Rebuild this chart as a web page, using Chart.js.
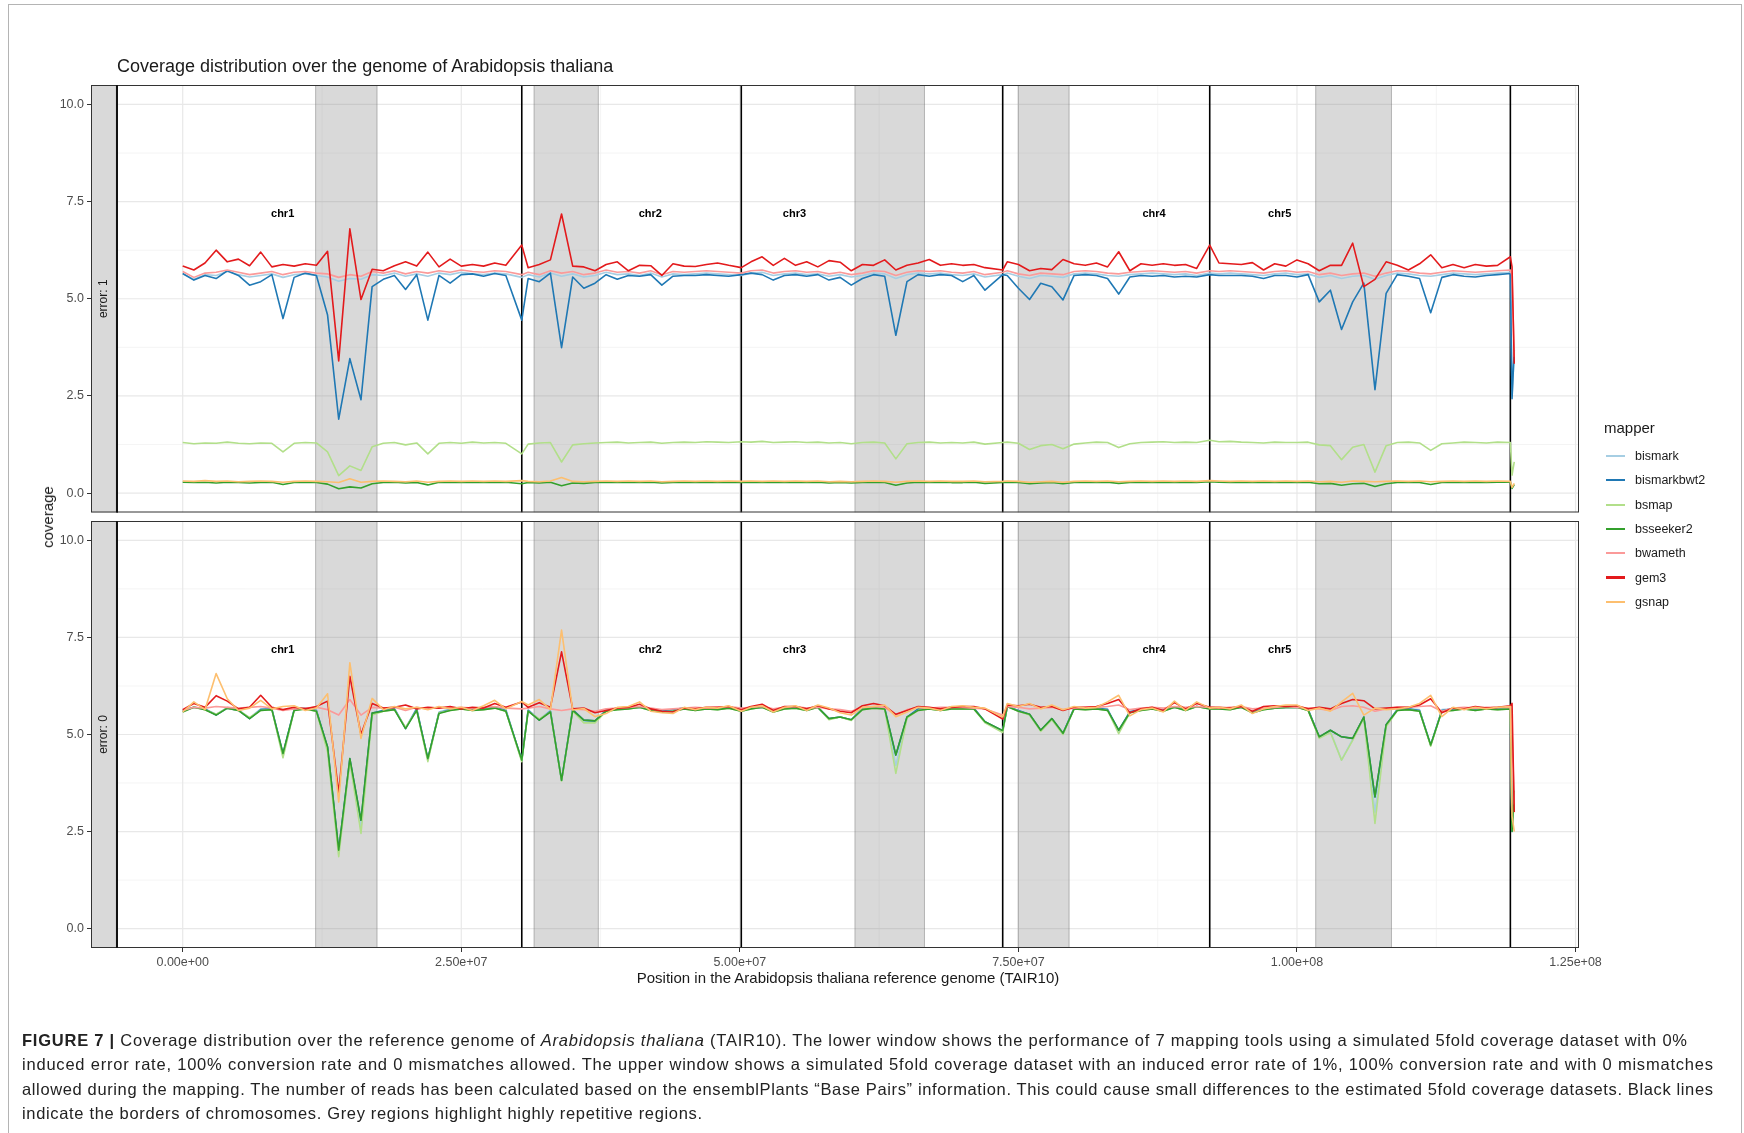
<!DOCTYPE html>
<html>
<head>
<meta charset="utf-8">
<title>Coverage distribution over the genome of Arabidopsis thaliana</title>
<script src="https://cdn.jsdelivr.net/npm/chart.js@4.4.1/dist/chart.umd.min.js"></script>
<style>
  html, body { margin: 0; padding: 0; background: #fff; }
  body { width: 1744px; height: 1133px; position: relative; overflow: hidden;
         font-family: 'Liberation Sans', Arial, sans-serif; color: #1a1a1a; }
  .frame { position: absolute; left: 8px; top: 4px; width: 1732px; height: 1200px;
           border: 1px solid #b4b4b4; border-bottom: none; }
  canvas { position: absolute; left: 0; top: 0; }
  .title { position: absolute; left: 117px; top: 57px; font-size: 18px; line-height: 18px; white-space: nowrap; }
  .ytitle { position: absolute; left: 48px; top: 517px; font-size: 15px; line-height: 18px; white-space: nowrap;
            transform: translate(-50%, -50%) rotate(-90deg); }
  .xtitle { position: absolute; left: 848px; top: 968px; font-size: 15px; line-height: 20px; white-space: nowrap;
            transform: translateX(-50%); }
  .legend-title { position: absolute; left: 1604px; top: 418px; font-size: 15px; line-height: 20px; }
  .legend-item { position: absolute; left: 1606px; height: 24px; display: flex; align-items: center;
                 font-size: 12.5px; color: #1a1a1a; white-space: nowrap; }
  .legend-item .key { width: 19px; height: 2.2px; margin-right: 10px; }
  .cap-line { position: absolute; left: 22px; font-size: 16.5px; line-height: 24.4px; white-space: nowrap; color: #222; }
</style>
</head>
<body>
<div class="frame"></div>
<canvas id="upper" width="1744" height="1133"></canvas>
<canvas id="lower" width="1744" height="1133"></canvas>
<div class="title">Coverage distribution over the genome of Arabidopsis thaliana</div>
<div class="ytitle">coverage</div>
<div class="xtitle">Position in the Arabidopsis thaliana reference genome (TAIR10)</div>
<div class="legend-title">mapper</div>
<div id="legend"></div>
<div class="cap-line" data-w="1665" style="top:1028px"><b>FIGURE 7 |</b> Coverage distribution over the reference genome of <i>Arabidopsis thaliana</i> (TAIR10). The lower window shows the performance of 7 mapping tools using a simulated 5fold coverage dataset with 0%</div>
<div class="cap-line" data-w="1691" style="top:1052.4px">induced error rate, 100% conversion rate and 0 mismatches allowed. The upper window shows a simulated 5fold coverage dataset with an induced error rate of 1%, 100% conversion rate and with 0 mismatches</div>
<div class="cap-line" data-w="1691" style="top:1076.8px">allowed during the mapping. The number of reads has been calculated based on the ensemblPlants “Base Pairs” information. This could cause small differences to the estimated 5fold coverage datasets. Black lines</div>
<div class="cap-line" data-w="680" style="top:1101.2px">indicate the borders of chromosomes. Grey regions highlight highly repetitive regions.</div>
<script>
// bin positions along the concatenated genome, in Mb (last two: ChrC, ChrM)
const positionsMb = [
  0, 1, 2, 3, 4, 5, 6, 7, 8, 9,
  10, 11, 12, 13, 14, 15, 16, 17, 18, 19,
  20, 21, 22, 23, 24, 25, 26, 27, 28, 29,
  30.43, 31, 32, 33, 34, 35, 36, 37, 38, 39,
  40, 41, 42, 43, 44, 45, 46, 47, 48, 49,
  50.13, 51, 52, 53, 54, 55, 56, 57, 58, 59,
  60, 61, 62, 63, 64, 65, 66, 67, 68, 69,
  70, 71, 72, 73.59, 74, 75, 76, 77, 78, 79,
  80, 81, 82, 83, 84, 85, 86, 87, 88, 89,
  90, 91, 92.17, 93, 94, 95, 96, 97, 98, 99,
  100, 101, 102, 103, 104, 105, 106, 107, 108, 109,
  110, 111, 112, 113, 114, 115, 116, 117, 118, 119.15,
  119.3, 119.5
];

const mappers = ['bismark', 'bismarkbwt2', 'bsmap', 'bsseeker2', 'bwameth', 'gem3', 'gsnap'];
const mapperColors = ['#A6CEE3', '#1F78B4', '#B2DF8A', '#33A02C', '#FB9A99', '#E31A1C', '#FDBF6F'];

const chromEndsMb = [30.43, 50.13, 73.59, 92.17, 119.15];
const repeatRegionsMb = [[11.93, 17.44], [31.53, 37.3], [60.33, 66.57], [74.98, 79.55], [101.68, 108.48]];
const chrLabels = ['chr1', 'chr2', 'chr3', 'chr4', 'chr5'];
const chrLabelXMb = [8.97, 41.96, 54.9, 87.17, 98.45];
const chrLabelY = 7.19;

const yTickValues = [0, 2.5, 5, 7.5, 10];
const yTickLabels = ['0.0', '2.5', '5.0', '7.5', '10.0'];
const xTickValues = [0, 25, 50, 75, 100, 125];
const xTickLabels = ['0.00e+00', '2.50e+07', '5.00e+07', '7.50e+07', '1.00e+08', '1.25e+08'];

// ---- error: 1 (upper window) ----
const upBismark = [
  5.64, 5.50, 5.62, 5.60, 5.70, 5.62, 5.56, 5.60, 5.64, 5.55,
  5.62, 5.64, 5.60, 5.56, 5.45, 5.52, 5.50, 5.62, 5.60, 5.66,
  5.58, 5.64, 5.58, 5.66, 5.62, 5.68, 5.64, 5.62, 5.66, 5.64,
  5.55, 5.62, 5.56, 5.66, 5.58, 5.64, 5.56, 5.60, 5.68, 5.62,
  5.64, 5.60, 5.66, 5.56, 5.64, 5.62, 5.64, 5.66, 5.64, 5.62,
  5.60, 5.66, 5.68, 5.60, 5.64, 5.66, 5.62, 5.64, 5.58, 5.62,
  5.56, 5.60, 5.66, 5.64, 5.52, 5.62, 5.66, 5.64, 5.66, 5.62,
  5.60, 5.64, 5.56, 5.62, 5.66, 5.58, 5.52, 5.60, 5.58, 5.55,
  5.64, 5.66, 5.64, 5.60, 5.58, 5.62, 5.64, 5.66, 5.64, 5.62,
  5.64, 5.60, 5.66, 5.64, 5.66, 5.64, 5.62, 5.60, 5.64, 5.66,
  5.62, 5.64, 5.55, 5.60, 5.52, 5.58, 5.60, 5.50, 5.60, 5.66,
  5.64, 5.60, 5.58, 5.62, 5.66, 5.64, 5.62, 5.64, 5.66, 5.68,
  2.50, 3.60
];
const upBismarkBwt2 = [
  5.65, 5.48, 5.60, 5.52, 5.72, 5.60, 5.35, 5.44, 5.62, 4.49,
  5.55, 5.66, 5.60, 4.58, 1.90, 3.46, 2.40, 5.31, 5.50, 5.60,
  5.24, 5.62, 4.45, 5.60, 5.40, 5.62, 5.64, 5.58, 5.65, 5.60,
  4.45, 5.52, 5.44, 5.66, 3.74, 5.56, 5.27, 5.40, 5.62, 5.50,
  5.60, 5.58, 5.62, 5.35, 5.58, 5.60, 5.60, 5.62, 5.60, 5.58,
  5.62, 5.66, 5.62, 5.48, 5.60, 5.62, 5.58, 5.62, 5.48, 5.55,
  5.35, 5.52, 5.62, 5.58, 4.06, 5.44, 5.62, 5.58, 5.62, 5.60,
  5.44, 5.60, 5.22, 5.62, 5.60, 5.27, 4.98, 5.40, 5.31, 4.97,
  5.60, 5.62, 5.60, 5.52, 5.12, 5.56, 5.60, 5.58, 5.60, 5.56,
  5.58, 5.56, 5.62, 5.60, 5.60, 5.60, 5.58, 5.52, 5.60, 5.60,
  5.56, 5.62, 4.92, 5.22, 4.21, 4.92, 5.40, 2.66, 5.14, 5.62,
  5.58, 5.52, 4.64, 5.55, 5.62, 5.58, 5.56, 5.60, 5.62, 5.65,
  2.43, 3.68
];
const upBsmap = [
  1.30, 1.27, 1.29, 1.28, 1.31, 1.28, 1.27, 1.29, 1.28, 1.06,
  1.28, 1.30, 1.29, 1.06, 0.45, 0.70, 0.58, 1.19, 1.28, 1.30,
  1.24, 1.29, 1.01, 1.28, 1.30, 1.28, 1.31, 1.29, 1.30, 1.28,
  1.01, 1.26, 1.29, 1.30, 0.80, 1.24, 1.27, 1.29, 1.30, 1.31,
  1.29, 1.30, 1.31, 1.28, 1.30, 1.31, 1.30, 1.32, 1.31, 1.30,
  1.32, 1.31, 1.33, 1.30, 1.31, 1.32, 1.30, 1.31, 1.29, 1.30,
  1.27, 1.30, 1.31, 1.29, 0.88, 1.27, 1.30, 1.31, 1.29, 1.30,
  1.29, 1.31, 1.26, 1.30, 1.31, 1.28, 1.12, 1.22, 1.25, 1.14,
  1.26, 1.29, 1.31, 1.30, 1.17, 1.27, 1.30, 1.31, 1.32, 1.30,
  1.31, 1.30, 1.36, 1.32, 1.33, 1.31, 1.30, 1.29, 1.31, 1.30,
  1.30, 1.31, 1.24, 1.22, 0.86, 1.18, 1.25, 0.54, 1.22, 1.30,
  1.31, 1.29, 1.10, 1.27, 1.29, 1.31, 1.30, 1.29, 1.31, 1.30,
  0.46, 0.80
];
const upBsseeker2 = [
  0.28, 0.27, 0.28, 0.26, 0.28, 0.27, 0.26, 0.27, 0.28, 0.22,
  0.27, 0.28, 0.27, 0.23, 0.11, 0.16, 0.13, 0.24, 0.27, 0.28,
  0.26, 0.27, 0.21, 0.28, 0.27, 0.28, 0.27, 0.28, 0.27, 0.28,
  0.24, 0.27, 0.26, 0.28, 0.19, 0.26, 0.25, 0.27, 0.28, 0.27,
  0.28, 0.27, 0.28, 0.26, 0.27, 0.28, 0.27, 0.28, 0.27, 0.28,
  0.27, 0.28, 0.27, 0.28, 0.27, 0.28, 0.27, 0.28, 0.26, 0.27,
  0.26, 0.27, 0.28, 0.27, 0.20, 0.26, 0.28, 0.27, 0.28, 0.27,
  0.27, 0.28, 0.25, 0.27, 0.28, 0.27, 0.24, 0.26, 0.27, 0.24,
  0.27, 0.28, 0.27, 0.28, 0.25, 0.27, 0.28, 0.27, 0.28, 0.27,
  0.28, 0.27, 0.29, 0.28, 0.27, 0.28, 0.27, 0.28, 0.27, 0.28,
  0.27, 0.28, 0.24, 0.25, 0.20, 0.24, 0.25, 0.17, 0.24, 0.27,
  0.28, 0.27, 0.22, 0.27, 0.28, 0.27, 0.28, 0.27, 0.28, 0.28,
  0.12, 0.22
];
const upBwameth = [
  5.70, 5.55, 5.66, 5.68, 5.74, 5.68, 5.62, 5.66, 5.70, 5.62,
  5.68, 5.70, 5.66, 5.64, 5.55, 5.62, 5.58, 5.70, 5.66, 5.72,
  5.64, 5.70, 5.66, 5.72, 5.68, 5.74, 5.70, 5.68, 5.72, 5.70,
  5.62, 5.68, 5.62, 5.72, 5.66, 5.70, 5.62, 5.66, 5.74, 5.68,
  5.70, 5.66, 5.72, 5.62, 5.70, 5.68, 5.70, 5.72, 5.70, 5.68,
  5.66, 5.72, 5.74, 5.66, 5.70, 5.72, 5.68, 5.70, 5.64, 5.68,
  5.62, 5.66, 5.72, 5.70, 5.60, 5.68, 5.72, 5.70, 5.72, 5.68,
  5.66, 5.70, 5.62, 5.68, 5.72, 5.64, 5.60, 5.66, 5.64, 5.62,
  5.70, 5.72, 5.70, 5.66, 5.64, 5.68, 5.70, 5.72, 5.70, 5.68,
  5.70, 5.66, 5.72, 5.70, 5.72, 5.70, 5.68, 5.66, 5.70, 5.72,
  5.68, 5.70, 5.62, 5.66, 5.60, 5.64, 5.66, 5.58, 5.66, 5.72,
  5.70, 5.66, 5.64, 5.68, 5.72, 5.70, 5.68, 5.70, 5.72, 5.74,
  5.60, 3.50
];
const upGem3 = [
  5.84, 5.74, 5.92, 6.25, 5.95, 6.02, 5.85, 6.20, 5.82, 5.88,
  5.84, 5.90, 5.86, 6.22, 3.40, 6.80, 4.98, 5.76, 5.72, 5.85,
  5.95, 5.84, 6.20, 5.82, 6.02, 5.84, 5.88, 5.84, 5.92, 5.86,
  6.38, 5.80, 5.88, 6.00, 7.18, 5.84, 5.82, 5.72, 5.88, 5.95,
  5.72, 5.86, 5.85, 5.60, 5.90, 5.84, 5.83, 5.88, 5.92, 5.86,
  5.80, 5.95, 6.08, 5.86, 6.04, 5.86, 5.95, 5.82, 5.98, 5.94,
  5.72, 5.88, 5.86, 6.00, 5.74, 5.86, 5.92, 6.01, 5.86, 5.90,
  5.86, 5.88, 5.80, 5.74, 5.95, 5.88, 5.72, 5.78, 5.75, 6.01,
  5.90, 5.86, 5.92, 5.82, 6.21, 5.72, 5.90, 5.86, 5.90, 5.86,
  5.88, 5.78, 6.38, 5.92, 5.90, 5.88, 5.93, 5.74, 5.90, 5.84,
  6.00, 5.90, 5.72, 5.86, 5.86, 6.43, 5.31, 5.50, 5.95, 5.86,
  5.74, 5.90, 6.13, 5.80, 5.88, 5.80, 5.88, 5.84, 5.86, 6.08,
  5.82, 3.33
];
const upGsnap = [
  0.31, 0.30, 0.32, 0.30, 0.31, 0.29, 0.30, 0.31, 0.30, 0.28,
  0.30, 0.31, 0.30, 0.29, 0.27, 0.37, 0.28, 0.30, 0.31, 0.30,
  0.29, 0.31, 0.28, 0.30, 0.31, 0.30, 0.31, 0.30, 0.31, 0.30,
  0.32, 0.30, 0.29, 0.31, 0.40, 0.30, 0.29, 0.30, 0.31, 0.30,
  0.31, 0.30, 0.31, 0.29, 0.30, 0.31, 0.30, 0.31, 0.30, 0.31,
  0.30, 0.31, 0.30, 0.31, 0.30, 0.31, 0.30, 0.31, 0.29, 0.30,
  0.29, 0.30, 0.31, 0.30, 0.28, 0.30, 0.31, 0.30, 0.31, 0.30,
  0.30, 0.31, 0.29, 0.30, 0.31, 0.30, 0.28, 0.29, 0.30, 0.28,
  0.30, 0.31, 0.30, 0.31, 0.29, 0.30, 0.31, 0.30, 0.31, 0.30,
  0.31, 0.30, 0.32, 0.31, 0.30, 0.31, 0.30, 0.31, 0.30, 0.31,
  0.30, 0.31, 0.29, 0.30, 0.28, 0.31, 0.30, 0.29, 0.30, 0.31,
  0.30, 0.31, 0.29, 0.30, 0.31, 0.30, 0.31, 0.30, 0.31, 0.30,
  0.15, 0.25
];

// ---- error: 0 (lower window) ----
const loBismark = [
  5.62, 5.70, 5.66, 5.52, 5.70, 5.64, 5.43, 5.66, 5.66, 4.45,
  5.64, 5.68, 5.64, 4.62, 1.95, 4.34, 2.60, 5.52, 5.64, 5.68,
  5.17, 5.68, 4.34, 5.58, 5.66, 5.68, 5.66, 5.68, 5.70, 5.66,
  4.32, 5.64, 5.39, 5.62, 3.81, 5.64, 5.34, 5.33, 5.64, 5.66,
  5.68, 5.70, 5.66, 5.62, 5.64, 5.68, 5.66, 5.68, 5.66, 5.70,
  5.64, 5.68, 5.70, 5.62, 5.68, 5.70, 5.66, 5.70, 5.40, 5.45,
  5.37, 5.66, 5.70, 5.68, 4.20, 5.44, 5.66, 5.68, 5.66, 5.68,
  5.68, 5.68, 5.32, 5.08, 5.72, 5.62, 5.50, 5.10, 5.40, 5.02,
  5.68, 5.66, 5.68, 5.66, 5.06, 5.60, 5.66, 5.68, 5.64, 5.70,
  5.66, 5.72, 5.68, 5.68, 5.66, 5.70, 5.60, 5.66, 5.68, 5.70,
  5.70, 5.66, 4.92, 5.08, 4.34, 4.88, 5.44, 3.00, 5.22, 5.66,
  5.66, 5.64, 4.72, 5.64, 5.66, 5.68, 5.66, 5.68, 5.66, 5.68,
  2.58, 3.45
];
const loBismarkBwt2 = [
  5.62, 5.70, 5.66, 5.50, 5.68, 5.62, 5.41, 5.64, 5.66, 4.51,
  5.64, 5.68, 5.62, 4.68, 2.02, 4.38, 2.79, 5.55, 5.62, 5.66,
  5.15, 5.66, 4.38, 5.56, 5.64, 5.68, 5.64, 5.66, 5.70, 5.62,
  4.34, 5.62, 5.37, 5.60, 3.82, 5.64, 5.37, 5.35, 5.62, 5.66,
  5.68, 5.70, 5.66, 5.62, 5.64, 5.68, 5.66, 5.68, 5.66, 5.70,
  5.64, 5.68, 5.70, 5.62, 5.68, 5.70, 5.66, 5.70, 5.41, 5.45,
  5.38, 5.66, 5.70, 5.68, 4.47, 5.45, 5.66, 5.68, 5.66, 5.68,
  5.68, 5.68, 5.33, 5.10, 5.72, 5.62, 5.52, 5.11, 5.41, 5.03,
  5.68, 5.66, 5.68, 5.64, 5.11, 5.58, 5.66, 5.68, 5.62, 5.70,
  5.64, 5.72, 5.68, 5.68, 5.66, 5.70, 5.58, 5.66, 5.68, 5.70,
  5.70, 5.64, 4.94, 5.11, 4.94, 4.90, 5.45, 3.39, 5.25, 5.64,
  5.66, 5.62, 4.73, 5.62, 5.66, 5.68, 5.64, 5.68, 5.66, 5.68,
  2.50, 3.55
];
const loBsmap = [
  5.60, 5.70, 5.64, 5.52, 5.68, 5.62, 5.44, 5.62, 5.64, 4.40,
  5.62, 5.66, 5.60, 4.55, 1.85, 4.30, 2.45, 5.50, 5.60, 5.64,
  5.18, 5.62, 4.30, 5.56, 5.62, 5.66, 5.62, 5.64, 5.68, 5.60,
  4.30, 5.60, 5.40, 5.58, 3.80, 5.60, 5.30, 5.30, 5.60, 5.64,
  5.66, 5.70, 5.62, 5.58, 5.60, 5.66, 5.62, 5.66, 5.64, 5.68,
  5.60, 5.66, 5.70, 5.58, 5.66, 5.68, 5.62, 5.70, 5.38, 5.45,
  5.36, 5.64, 5.68, 5.66, 4.00, 5.42, 5.62, 5.66, 5.62, 5.66,
  5.66, 5.66, 5.30, 5.05, 5.72, 5.60, 5.50, 5.08, 5.38, 5.00,
  5.66, 5.64, 5.66, 5.62, 5.02, 5.56, 5.62, 5.66, 5.60, 5.70,
  5.62, 5.72, 5.66, 5.66, 5.64, 5.70, 5.56, 5.64, 5.68, 5.70,
  5.70, 5.62, 4.90, 5.05, 4.34, 4.85, 5.42, 2.71, 5.20, 5.62,
  5.64, 5.60, 4.70, 5.60, 5.62, 5.66, 5.62, 5.66, 5.64, 5.66,
  2.55, 3.30
];
const loBsseeker2 = [
  5.58, 5.70, 5.64, 5.50, 5.68, 5.62, 5.41, 5.62, 5.64, 4.51,
  5.62, 5.66, 5.60, 4.68, 2.02, 4.38, 2.79, 5.55, 5.60, 5.64,
  5.15, 5.62, 4.38, 5.54, 5.62, 5.66, 5.62, 5.64, 5.68, 5.60,
  4.34, 5.60, 5.37, 5.58, 3.82, 5.62, 5.37, 5.35, 5.60, 5.64,
  5.66, 5.70, 5.62, 5.58, 5.60, 5.66, 5.62, 5.66, 5.64, 5.68,
  5.60, 5.66, 5.70, 5.58, 5.66, 5.68, 5.62, 5.70, 5.41, 5.45,
  5.38, 5.64, 5.68, 5.66, 4.47, 5.45, 5.62, 5.66, 5.62, 5.66,
  5.66, 5.66, 5.33, 5.10, 5.72, 5.60, 5.52, 5.11, 5.41, 5.03,
  5.66, 5.64, 5.66, 5.62, 5.11, 5.56, 5.62, 5.66, 5.60, 5.70,
  5.62, 5.72, 5.66, 5.66, 5.64, 5.70, 5.56, 5.64, 5.68, 5.70,
  5.70, 5.62, 4.94, 5.11, 4.94, 4.90, 5.45, 3.39, 5.25, 5.62,
  5.64, 5.60, 4.73, 5.60, 5.62, 5.66, 5.62, 5.66, 5.64, 5.66,
  2.50, 3.55
];
const loBwameth = [
  5.62, 5.70, 5.68, 5.72, 5.70, 5.68, 5.70, 5.72, 5.68, 5.62,
  5.66, 5.68, 5.70, 5.64, 5.50, 5.90, 5.50, 5.70, 5.68, 5.70,
  5.62, 5.70, 5.66, 5.70, 5.68, 5.70, 5.68, 5.70, 5.72, 5.68,
  5.66, 5.68, 5.72, 5.66, 5.62, 5.66, 5.64, 5.60, 5.66, 5.68,
  5.70, 5.72, 5.68, 5.64, 5.66, 5.68, 5.70, 5.68, 5.70, 5.72,
  5.68, 5.70, 5.72, 5.66, 5.70, 5.72, 5.68, 5.70, 5.66, 5.64,
  5.60, 5.70, 5.72, 5.70, 5.50, 5.64, 5.70, 5.68, 5.70, 5.70,
  5.70, 5.68, 5.66, 5.50, 5.72, 5.70, 5.66, 5.68, 5.70, 5.64,
  5.68, 5.70, 5.70, 5.72, 5.76, 5.64, 5.68, 5.70, 5.68, 5.72,
  5.70, 5.72, 5.70, 5.68, 5.70, 5.72, 5.66, 5.68, 5.70, 5.72,
  5.70, 5.68, 5.66, 5.62, 5.72, 5.74, 5.70, 5.60, 5.66, 5.70,
  5.70, 5.72, 5.74, 5.60, 5.68, 5.70, 5.68, 5.70, 5.70, 5.70,
  5.10, 3.20
];
const loGem3 = [
  5.64, 5.80, 5.70, 6.00, 5.86, 5.66, 5.70, 6.01, 5.70, 5.64,
  5.70, 5.66, 5.72, 5.86, 3.50, 6.50, 5.00, 5.80, 5.68, 5.70,
  5.76, 5.66, 5.70, 5.68, 5.72, 5.66, 5.70, 5.68, 5.80, 5.70,
  5.84, 5.70, 5.82, 5.70, 7.13, 5.66, 5.68, 5.56, 5.62, 5.68,
  5.70, 5.78, 5.66, 5.60, 5.58, 5.68, 5.66, 5.70, 5.70, 5.72,
  5.64, 5.72, 5.78, 5.62, 5.72, 5.72, 5.66, 5.74, 5.66, 5.60,
  5.56, 5.74, 5.80, 5.74, 5.52, 5.62, 5.72, 5.70, 5.66, 5.70,
  5.72, 5.72, 5.66, 5.40, 5.76, 5.74, 5.78, 5.70, 5.72, 5.62,
  5.70, 5.70, 5.72, 5.80, 5.90, 5.56, 5.66, 5.70, 5.62, 5.82,
  5.66, 5.80, 5.70, 5.70, 5.68, 5.72, 5.60, 5.72, 5.74, 5.72,
  5.74, 5.66, 5.70, 5.66, 5.80, 5.90, 5.87, 5.66, 5.68, 5.70,
  5.70, 5.76, 5.92, 5.56, 5.68, 5.66, 5.72, 5.68, 5.70, 5.74,
  5.80, 3.00
];
const loGsnap = [
  5.58, 5.84, 5.64, 6.57, 5.92, 5.62, 5.68, 5.88, 5.66, 5.72,
  5.74, 5.62, 5.68, 6.05, 3.26, 6.85, 4.90, 5.93, 5.64, 5.72,
  5.66, 5.70, 5.64, 5.72, 5.66, 5.70, 5.62, 5.74, 5.88, 5.66,
  5.85, 5.76, 5.90, 5.64, 7.69, 5.63, 5.67, 5.46, 5.54, 5.70,
  5.72, 5.84, 5.60, 5.56, 5.54, 5.70, 5.64, 5.70, 5.68, 5.74,
  5.60, 5.70, 5.74, 5.58, 5.70, 5.74, 5.62, 5.76, 5.68, 5.56,
  5.50, 5.70, 5.72, 5.76, 5.46, 5.58, 5.70, 5.68, 5.62, 5.72,
  5.74, 5.70, 5.68, 5.45, 5.80, 5.72, 5.80, 5.66, 5.76, 5.64,
  5.72, 5.68, 5.70, 5.84, 6.01, 5.48, 5.64, 5.68, 5.58, 5.86,
  5.62, 5.84, 5.68, 5.70, 5.66, 5.76, 5.54, 5.66, 5.72, 5.76,
  5.76, 5.62, 5.68, 5.60, 5.84, 6.06, 5.50, 5.68, 5.64, 5.66,
  5.70, 5.80, 6.01, 5.46, 5.70, 5.64, 5.70, 5.66, 5.70, 5.72,
  2.90, 2.50
];

const upperSeries = [upBismark, upBismarkBwt2, upBsmap, upBsseeker2, upBwameth, upGem3, upGsnap];
const lowerSeries = [loBismark, loBismarkBwt2, loBsmap, loBsseeker2, loBwameth, loGem3, loGsnap];

// layout of the two facet panels (pixels)
const W = 1744, H = 1133;
const plotRight = 1579;
const xMin = -8.23, xMax = 125.31, panelStart = -5.9;
const tickFont = { family: "'Liberation Sans', Arial, sans-serif", size: 12.5 };

const panelDecor = {
  id: 'panelDecor',
  beforeDatasetsDraw(chart) {
    const { ctx, chartArea: a, scales: { x, y } } = chart;
    const left = x.getPixelForValue(panelStart);
    ctx.save();
    ctx.beginPath();
    ctx.rect(left, a.top, a.right - left, a.bottom - a.top);
    ctx.clip();
    const vline = px => { ctx.beginPath(); ctx.moveTo(px, a.top); ctx.lineTo(px, a.bottom); ctx.stroke(); };
    const hline = py => { ctx.beginPath(); ctx.moveTo(left, py); ctx.lineTo(a.right, py); ctx.stroke(); };
    // minor grid
    ctx.strokeStyle = '#F1F1F1';
    ctx.lineWidth = 0.8;
    [12.5, 37.5, 62.5, 87.5, 112.5].forEach(v => vline(x.getPixelForValue(v)));
    [1.25, 3.75, 6.25, 8.75].forEach(v => hline(y.getPixelForValue(v)));
    // major grid
    ctx.strokeStyle = '#E8E8E8';
    ctx.lineWidth = 1.2;
    xTickValues.forEach(v => vline(x.getPixelForValue(v)));
    yTickValues.forEach(v => hline(y.getPixelForValue(v)));
    // highly repetitive regions
    repeatRegionsMb.forEach(([s, e]) => {
      const xs = x.getPixelForValue(s), xe = x.getPixelForValue(e);
      ctx.fillStyle = 'rgba(130,130,130,0.3)';
      ctx.fillRect(xs, a.top, xe - xs, a.bottom - a.top);
      ctx.strokeStyle = 'rgba(110,110,110,0.45)';
      ctx.lineWidth = 1;
      vline(xs); vline(xe);
    });
    // chromosome borders
    ctx.strokeStyle = '#000';
    ctx.lineWidth = 1.6;
    chromEndsMb.forEach(v => vline(x.getPixelForValue(v)));
    ctx.restore();
  },
  afterDatasetsDraw(chart, args, opts) {
    const { ctx, chartArea: a, scales: { x, y } } = chart;
    const left = x.getPixelForValue(panelStart);
    ctx.save();
    // facet strip
    ctx.fillStyle = '#D9D9D9';
    ctx.fillRect(a.left, a.top, left - a.left, a.bottom - a.top);
    ctx.strokeStyle = '#333';
    ctx.lineWidth = 1;
    ctx.strokeRect(a.left + 0.5, a.top + 0.5, left - a.left, a.bottom - a.top - 1);
    ctx.translate((a.left + left) / 2, (a.top + a.bottom) / 2);
    ctx.rotate(-Math.PI / 2);
    ctx.fillStyle = '#1a1a1a';
    ctx.font = "12px 'Liberation Sans', Arial, sans-serif";
    ctx.textAlign = 'center';
    ctx.textBaseline = 'middle';
    ctx.fillText(opts.stripLabel, 0, 0);
    ctx.restore();

    ctx.save();
    // panel border
    ctx.strokeStyle = '#333';
    ctx.lineWidth = 1;
    ctx.strokeRect(left + 0.5, a.top + 0.5, a.right - left - 1, a.bottom - a.top - 1);
    ctx.strokeStyle = '#111';
    ctx.lineWidth = 2;
    ctx.beginPath(); ctx.moveTo(left, a.top); ctx.lineTo(left, a.bottom); ctx.stroke();
    // chromosome names
    ctx.fillStyle = '#000';
    ctx.font = "bold 11px 'Liberation Sans', Arial, sans-serif";
    ctx.textAlign = 'center';
    ctx.textBaseline = 'middle';
    chrLabels.forEach((t, i) => ctx.fillText(t, x.getPixelForValue(chrLabelXMb[i]), y.getPixelForValue(chrLabelY)));
    ctx.restore();
  }
};

function makeDatasets(seriesList) {
  return mappers.map((name, k) => ({
    label: name,
    data: seriesList[k].slice(0, positionsMb.length).map((v, i) => ({ x: positionsMb[i], y: v })),
    borderColor: mapperColors[k],
    borderWidth: 1.6,
    borderJoinStyle: 'round',
    pointRadius: 0,
    tension: 0,
    fill: false,
    order: mappers.length - k
  }));
}

function panelChart(id, seriesList, stripLabel, top, bottom, showX) {
  const xAxisHeight = showX ? 35 : 0;
  return new Chart(document.getElementById(id), {
    type: 'line',
    data: { datasets: makeDatasets(seriesList) },
    options: {
      responsive: false,
      animation: false,
      devicePixelRatio: 1,
      events: [],
      parsing: false,
      layout: {
        padding: { left: 0, right: W - plotRight, top: top, bottom: H - bottom - xAxisHeight }
      },
      plugins: {
        legend: { display: false },
        tooltip: { enabled: false },
        panelDecor: { stripLabel }
      },
      scales: {
        x: {
          type: 'linear',
          min: xMin,
          max: xMax,
          display: showX,
          afterBuildTicks: s => { s.ticks = xTickValues.map(v => ({ value: v })); },
          afterFit: s => { if (showX) s.height = xAxisHeight; },
          ticks: {
            callback: v => xTickLabels[xTickValues.indexOf(v)],
            font: tickFont, color: '#4D4D4D', maxRotation: 0, autoSkip: false, padding: 3
          },
          grid: { drawOnChartArea: false, drawTicks: true, tickLength: 4, color: '#333' },
          border: { display: false }
        },
        y: {
          min: -0.5,
          max: 10.5,
          afterBuildTicks: s => { s.ticks = yTickValues.map(v => ({ value: v })); },
          afterFit: s => { s.width = 91; },
          ticks: {
            callback: v => yTickLabels[yTickValues.indexOf(v)],
            font: tickFont, color: '#4D4D4D', padding: 3
          },
          grid: { drawOnChartArea: false, drawTicks: true, tickLength: 4, color: '#333' },
          border: { display: false }
        }
      }
    },
    plugins: [panelDecor]
  });
}

panelChart('upper', upperSeries, 'error: 1', 85, 512.5, false);
panelChart('lower', lowerSeries, 'error: 0', 521, 948, true);

// legend (ggplot style, built from the mapper list)
const legend = document.getElementById('legend');
mappers.forEach((name, k) => {
  const item = document.createElement('div');
  item.className = 'legend-item';
  item.style.top = (444 + k * 24.3) + 'px';
  item.innerHTML = '<span class="key" style="background:' + mapperColors[k] + '"></span>' + name;
  legend.appendChild(item);
});

// stretch caption lines to the widths of the printed lines
function fitCaption() {
  document.querySelectorAll('.cap-line').forEach(el => {
    el.style.letterSpacing = '0px';
    const natural = el.getBoundingClientRect().width;
    const n = el.textContent.length;
    el.style.letterSpacing = ((+el.dataset.w - natural) / (n - 1)) + 'px';
  });
}
fitCaption();
if (document.fonts && document.fonts.ready) document.fonts.ready.then(fitCaption);
</script>
</body>
</html>
